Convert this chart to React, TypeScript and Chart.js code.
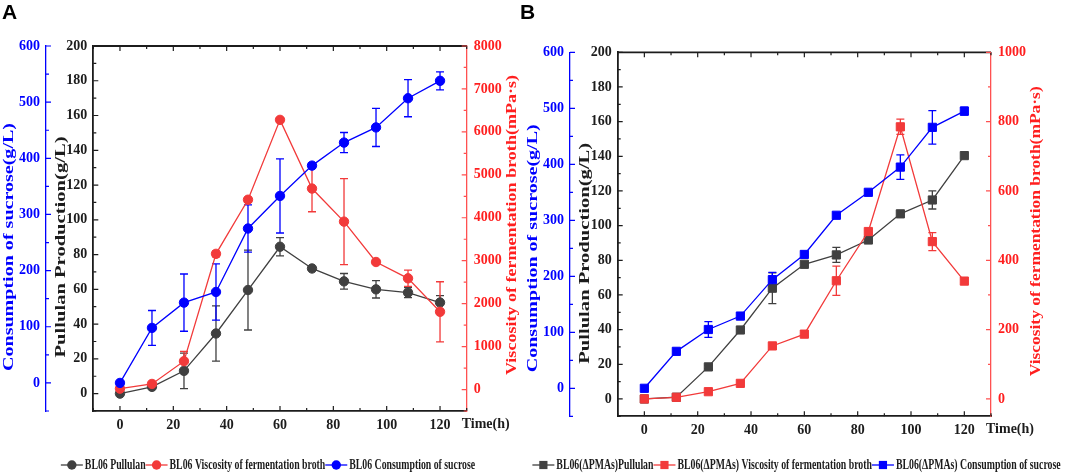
import { useEffect, useRef } from 'react';
import { Chart, registerables } from 'chart.js';
import type { ChartConfiguration, Plugin, Scale } from 'chart.js';

Chart.register(...registerables);

// sampling times (h)
const TIME_H = [0, 12, 24, 36, 48, 60, 72, 84, 96, 108, 120];

// panel A: BL06
const A_PULLULAN = [0, 3.9, 13.1, 34.6, 59.6, 84.5, 72, 64.6, 60, 58.1, 52.4];
const A_PULLULAN_ERR = [0, 0, 10.2, 15.9, 23, 5.3, 0, 4.5, 5, 2.9, 4];
const A_VISCOSITY = [20, 130, 660, 3160, 4420, 6280, 4680, 3910, 2970, 2590, 1810];
const A_VISCOSITY_ERR = [0, 0, 230, 70, 60, 50, 540, 1000, 50, 190, 700];
const A_SUCROSE = [0, 98, 143, 162, 275, 333, 387, 428, 455, 507, 538];
const A_SUCROSE_ERR = [0, 31, 51, 50, 42, 66, 5, 18, 34, 33, 16];

// panel B: BL06(ΔPMAs)
const B_PULLULAN = [0, 1, 18.5, 39.8, 63.9, 77.7, 83.1, 91.7, 106.8, 114.8, 140.4];
const B_PULLULAN_ERR = [0, 0, 1, 0, 8.9, 0, 4.3, 0, 0, 5.2, 0];
const B_VISCOSITY = [0, 4.8, 21, 45, 153, 187, 341, 483, 785, 454, 340];
const B_VISCOSITY_ERR = [0, 0, 0, 0, 0, 0, 42, 0, 22, 26, 0];
const B_SUCROSE = [0, 66, 105, 129, 194, 239, 309, 350, 395, 466, 495];
const B_SUCROSE_ERR = [0, 0, 14, 0, 13, 0, 0, 0, 22, 30, 7];

// tick labels
const X_TICKS = [0, 20, 40, 60, 80, 100, 120];
const PULLULAN_TICKS = [0, 20, 40, 60, 80, 100, 120, 140, 160, 180, 200];
const SUCROSE_TICKS = [0, 100, 200, 300, 400, 500, 600];
const A_VISCOSITY_TICKS = [0, 1000, 2000, 3000, 4000, 5000, 6000, 7000, 8000];
const B_VISCOSITY_TICKS = [0, 200, 400, 600, 800, 1000];

const A_LEGEND = [
  'BL06 Pullulan',
  'BL06 Viscosity of fermentation broth',
  'BL06 Consumption of sucrose',
];
const B_LEGEND = [
  'BL06(ΔPMAs)Pullulan',
  'BL06(ΔPMAs) Viscosity of fermentation broth',
  'BL06(ΔPMAs) Consumption of sucrose',
];

const SERIF = '"Liberation Serif", "Times New Roman", serif';
const INK = '#1c1c1c';
const GREY = '#404040';
const BLUE = '#0000ff';
const RED = '#f23a3a';
const RED_AXIS = '#ff5050';
const RED_TEXT = '#ff1f1f';

interface PanelSpec {
  letter: string;
  left: number;
  width: number;
  padTop: number;
  blueW: number;
  blackW: number;
  redW: number;
  xH: number;
  shape: 'circle' | 'rect';
  radius: number;
  pullulan: number[];
  pullulanErr: number[];
  viscosity: number[];
  viscosityErr: number[];
  sucrose: number[];
  sucroseErr: number[];
  viscMin: number;
  viscMax: number;
  viscTicks: number[];
  legend: string[];
  legendX: number;
  blueCy: number;
  redLen: number;
}

const PANEL_A: PanelSpec = {
  letter: 'A', left: 0, width: 540, padTop: 46, blueW: 46, blackW: 47.3, redW: 73.3, xH: 49,
  shape: 'circle', radius: 4.7,
  pullulan: A_PULLULAN, pullulanErr: A_PULLULAN_ERR,
  viscosity: A_VISCOSITY, viscosityErr: A_VISCOSITY_ERR,
  sucrose: A_SUCROSE, sucroseErr: A_SUCROSE_ERR,
  viscMin: -500, viscMax: 8000, viscTicks: A_VISCOSITY_TICKS,
  legend: A_LEGEND, legendX: 268, blueCy: 201, redLen: 300,
};

const PANEL_B: PanelSpec = {
  letter: 'B', left: 516, width: 549, padTop: 52.3, blueW: 54, blackW: 47.7, redW: 74, xH: 43.7,
  shape: 'rect', radius: 5.8,
  pullulan: B_PULLULAN, pullulanErr: B_PULLULAN_ERR,
  viscosity: B_VISCOSITY, viscosityErr: B_VISCOSITY_ERR,
  sucrose: B_SUCROSE, sucroseErr: B_SUCROSE_ERR,
  viscMin: -50, viscMax: 1000, viscTicks: B_VISCOSITY_TICKS,
  legend: B_LEGEND, legendX: 796.5 - 516, blueCy: 196, redLen: 290,
};

function drawTicks(ctx: CanvasRenderingContext2D, scale: Scale, pos: number, vertical: boolean, dir: number, color: string) {
  const majors = scale.ticks.map((t) => t.value);
  const step = majors[1] - majors[0];
  const minors: number[] = [];
  for (let v = majors[0] - step / 2; v >= scale.min - 1e-6; v -= step) minors.push(v);
  for (let v = majors[0] + step / 2; v <= scale.max + 1e-6; v += step) minors.push(v);
  const mark = (v: number, len: number) => {
    const p = scale.getPixelForValue(v);
    if (vertical) {
      ctx.moveTo(pos, p);
      ctx.lineTo(pos + dir * len, p);
    } else {
      ctx.moveTo(p, pos);
      ctx.lineTo(p, pos + dir * len);
    }
  };
  ctx.save();
  ctx.strokeStyle = color;
  ctx.lineWidth = 1.2;
  ctx.beginPath();
  majors.forEach((v) => mark(v, 5));
  minors.forEach((v) => mark(v, 3));
  ctx.stroke();
  ctx.restore();
}

// text squeezed/stretched to a given length, optionally rotated
function drawFitText(ctx: CanvasRenderingContext2D, text: string, cx: number, cy: number, length: number, color: string, size: number, rotate: boolean) {
  ctx.save();
  ctx.font = `bold ${size}px ${SERIF}`;
  const w = ctx.measureText(text).width;
  ctx.translate(cx, cy);
  if (rotate) ctx.rotate(-Math.PI / 2);
  ctx.scale(length / w, 1);
  ctx.fillStyle = color;
  ctx.textAlign = 'center';
  ctx.textBaseline = 'middle';
  ctx.fillText(text, 0, 0);
  ctx.restore();
}

function drawMarker(ctx: CanvasRenderingContext2D, shape: string, x: number, y: number, r: number, color: string) {
  ctx.fillStyle = color;
  ctx.beginPath();
  if (shape === 'circle') {
    ctx.arc(x, y, r, 0, Math.PI * 2);
  } else {
    const s = r * Math.SQRT1_2;
    ctx.rect(x - s, y - s, 2 * s, 2 * s);
  }
  ctx.fill();
}

function decorPlugin(spec: PanelSpec): Plugin<'line'> {
  return {
    id: 'panelDecor',
    beforeDatasetsDraw(chart) {
      const ctx = chart.ctx;
      chart.data.datasets.forEach((ds: any, i) => {
        const meta = chart.getDatasetMeta(i);
        const yScale = chart.scales[ds.yAxisID];
        const errs: number[] = ds.errorBars;
        ctx.save();
        ctx.strokeStyle = ds.borderColor;
        ctx.lineWidth = 1.3;
        ctx.beginPath();
        errs.forEach((e, j) => {
          if (!e) return;
          const v = ds.data[j].y;
          const x = meta.data[j].x;
          const yt = yScale.getPixelForValue(v + e);
          const yb = yScale.getPixelForValue(v - e);
          ctx.moveTo(x, yt);
          ctx.lineTo(x, yb);
          ctx.moveTo(x - 4, yt);
          ctx.lineTo(x + 4, yt);
          ctx.moveTo(x - 4, yb);
          ctx.lineTo(x + 4, yb);
        });
        ctx.stroke();
        ctx.restore();
      });
    },
    afterDraw(chart) {
      const ctx = chart.ctx;
      const area = chart.chartArea;
      const { x, yP, yS, yV } = chart.scales;

      // top frame line
      ctx.save();
      ctx.strokeStyle = INK;
      ctx.lineWidth = 1.8;
      ctx.beginPath();
      ctx.moveTo(area.left, area.top);
      ctx.lineTo(area.right, area.top);
      ctx.stroke();
      ctx.restore();

      drawTicks(ctx, x, area.bottom, false, -1, INK);
      drawTicks(ctx, x, area.top, false, 1, INK);
      drawTicks(ctx, yP, area.left, true, 1, INK);
      drawTicks(ctx, yS, yS.right, true, 1, BLUE);
      drawTicks(ctx, yV, area.right, true, -1, RED_AXIS);

      // axis titles
      drawFitText(ctx, 'Consumption of sucrose(g/L)', yS.right - 36.5, area.top + spec.blueCy, 248, BLUE, 14, true);
      drawFitText(ctx, 'Pullulan Production(g/L)', area.left - 32.3, area.top + 201, 221, INK, 14, true);
      drawFitText(ctx, 'Viscosity of fermentation broth(mPa·s)', area.right + 45.8, area.top + 179, spec.redLen, RED_TEXT, 14, true);

      // x axis name, to the right of the tick labels
      ctx.save();
      ctx.font = `bold 14px ${SERIF}`;
      ctx.fillStyle = INK;
      ctx.textAlign = 'left';
      ctx.textBaseline = 'middle';
      ctx.fillText('Time(h)', area.right - 5, area.bottom + 13.5);
      ctx.restore();

      // panel letter
      ctx.save();
      ctx.font = 'bold 21px "Liberation Sans", Arial, sans-serif';
      ctx.fillStyle = '#000';
      ctx.textAlign = 'left';
      ctx.textBaseline = 'alphabetic';
      ctx.fillText(spec.letter, spec.letter === 'A' ? 2 : 4, 18.5);
      ctx.restore();

      // legend: line segment with marker, then condensed text
      const colors = [GREY, RED, BLUE];
      const sx = 0.7;
      const seg = 22;
      const gap = 2;
      const cy = 465;
      ctx.save();
      ctx.font = `bold 14px ${SERIF}`;
      const widths = spec.legend.map((t) => ctx.measureText(t).width * sx);
      const total = widths.reduce((a, w) => a + seg + gap + w, 0);
      let lx = spec.legendX - total / 2;
      spec.legend.forEach((t, i) => {
        ctx.strokeStyle = colors[i];
        ctx.lineWidth = 1.3;
        ctx.beginPath();
        ctx.moveTo(lx, cy);
        ctx.lineTo(lx + seg, cy);
        ctx.stroke();
        drawMarker(ctx, spec.shape, lx + seg / 2, cy, spec.radius, colors[i]);
        lx += seg + gap;
        ctx.save();
        ctx.translate(lx, cy);
        ctx.scale(sx, 1);
        ctx.fillStyle = INK;
        ctx.textAlign = 'left';
        ctx.textBaseline = 'middle';
        ctx.fillText(t, 0, 0);
        ctx.restore();
        lx += widths[i];
      });
      ctx.restore();
    },
  };
}

function buildConfig(spec: PanelSpec): ChartConfiguration<'line'> {
  const pts = (vals: number[]) => TIME_H.map((t, i) => ({ x: t, y: vals[i] }));
  const tickFont = { family: SERIF, size: 14, weight: 'bold' as const };
  const setTicks = (vals: number[]) => (axis: Scale) => {
    axis.ticks = vals.map((v) => ({ value: v }));
  };
  const series = (label: string, vals: number[], errs: number[], axis: string, color: string, order: number) => ({
    label,
    data: pts(vals),
    yAxisID: axis,
    borderColor: color,
    backgroundColor: color,
    pointBackgroundColor: color,
    pointBorderColor: color,
    pointBorderWidth: 1,
    pointStyle: spec.shape,
    pointRadius: spec.radius,
    borderWidth: 1.3,
    tension: 0,
    order,
    errorBars: errs,
  });

  return {
    type: 'line',
    data: {
      datasets: [
        series(spec.legend[0], spec.pullulan, spec.pullulanErr, 'yP', GREY, 2),
        series(spec.legend[1], spec.viscosity, spec.viscosityErr, 'yV', RED, 1),
        series(spec.legend[2], spec.sucrose, spec.sucroseErr, 'yS', BLUE, 0),
      ] as any,
    },
    options: {
      responsive: false,
      animation: false,
      events: [],
      layout: { padding: { top: spec.padTop, bottom: 13, left: 0, right: 0 } },
      plugins: {
        legend: { display: false },
        tooltip: { enabled: false },
        title: { display: false },
      },
      scales: {
        x: {
          type: 'linear',
          position: 'bottom',
          min: -10,
          max: 130,
          afterBuildTicks: setTicks(X_TICKS),
          afterFit: (s: Scale) => { s.height = spec.xH; },
          grid: { display: false, drawTicks: false },
          border: { display: true, color: INK, width: 1.8 },
          ticks: { padding: 6, color: INK, font: tickFont, autoSkip: false, maxRotation: 0, callback: (v) => String(v) },
        },
        yS: {
          type: 'linear',
          position: 'left',
          weight: 1,
          min: -50,
          max: 600,
          afterBuildTicks: setTicks(SUCROSE_TICKS),
          afterFit: (s: Scale) => { s.width = spec.blueW; },
          grid: { display: false, drawTicks: false },
          border: { display: true, color: BLUE, width: 1.3 },
          ticks: { padding: 6, color: BLUE, font: tickFont, autoSkip: false, callback: (v) => String(v) },
        },
        yP: {
          type: 'linear',
          position: 'left',
          weight: 0,
          min: -10,
          max: 200,
          afterBuildTicks: setTicks(PULLULAN_TICKS),
          afterFit: (s: Scale) => { s.width = spec.blackW; },
          grid: { display: false, drawTicks: false },
          border: { display: true, color: INK, width: 1.8 },
          ticks: { padding: 6, color: INK, font: tickFont, autoSkip: false, callback: (v) => String(v) },
        },
        yV: {
          type: 'linear',
          position: 'right',
          min: spec.viscMin,
          max: spec.viscMax,
          afterBuildTicks: setTicks(spec.viscTicks),
          afterFit: (s: Scale) => { s.width = spec.redW; },
          grid: { display: false, drawTicks: false },
          border: { display: true, color: RED_AXIS, width: 1.3 },
          ticks: { padding: 7, color: RED_TEXT, font: tickFont, autoSkip: false, callback: (v) => String(v) },
        },
      } as any,
    },
    plugins: [decorPlugin(spec)],
  };
}

function Panel({ spec }: { spec: PanelSpec }) {
  const canvasRef = useRef<HTMLCanvasElement | null>(null);

  useEffect(() => {
    if (!canvasRef.current) return;
    const chart = new Chart(canvasRef.current, buildConfig(spec));
    return () => {
      chart.destroy();
    };
  }, [spec]);

  return (
    <canvas
      ref={canvasRef}
      width={spec.width}
      height={473}
      style={{ position: 'absolute', left: spec.left, top: 0, width: spec.width, height: 473 }}
    />
  );
}

export default function App() {
  return (
    <div style={{ position: 'fixed', left: 0, top: 0, width: 1065, height: 473, background: '#fff', overflow: 'hidden' }}>
      <Panel spec={PANEL_A} />
      <Panel spec={PANEL_B} />
    </div>
  );
}
